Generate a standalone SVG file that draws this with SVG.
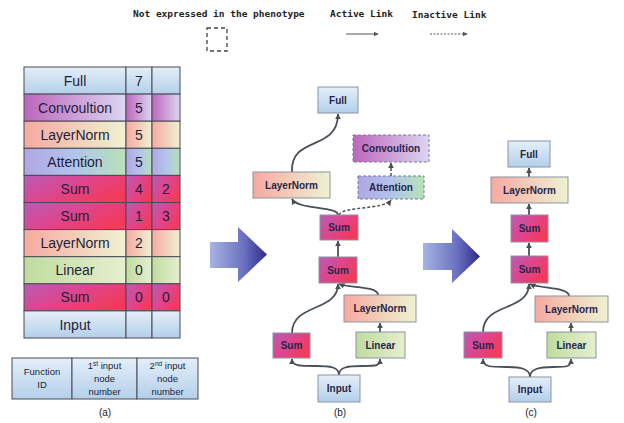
<svg xmlns="http://www.w3.org/2000/svg" width="624" height="423" viewBox="0 0 624 423">
<defs>
<linearGradient id="gBlue" x1="0" y1="0" x2="0" y2="1"><stop offset="0" stop-color="#e4eff9"/><stop offset="1" stop-color="#b3cfea"/></linearGradient>
<linearGradient id="gSum" x1="0" y1="0" x2="1" y2="0.6"><stop offset="0" stop-color="#b85cb6"/><stop offset="0.55" stop-color="#e0448a"/><stop offset="1" stop-color="#f23a5a"/></linearGradient>
<linearGradient id="gLN" x1="0" y1="0" x2="1" y2="0"><stop offset="0" stop-color="#f7a9a0"/><stop offset="1" stop-color="#eef2d2"/></linearGradient>
<linearGradient id="gLin" x1="0" y1="0" x2="1" y2="0"><stop offset="0" stop-color="#bfdc9e"/><stop offset="1" stop-color="#e6efd0"/></linearGradient>
<linearGradient id="gConv" x1="0" y1="0" x2="1" y2="0"><stop offset="0" stop-color="#bd66bd"/><stop offset="1" stop-color="#dcd6f1"/></linearGradient>
<linearGradient id="gAtt" x1="0" y1="0" x2="1" y2="0"><stop offset="0" stop-color="#b0a6e2"/><stop offset="0.5" stop-color="#b2c4ec"/><stop offset="1" stop-color="#b6e2b6"/></linearGradient>
<linearGradient id="gArrow" x1="0" y1="0" x2="1" y2="0"><stop offset="0" stop-color="#a6b4e2"/><stop offset="0.6" stop-color="#6a70c0"/><stop offset="1" stop-color="#2e2a88"/></linearGradient>
<marker id="ah" viewBox="0 0 10 10" refX="9" refY="5" markerWidth="6" markerHeight="6" markerUnits="userSpaceOnUse" orient="auto"><path d="M0,0 L10,5 L0,10 z" fill="#4a5058"/></marker>
<marker id="ahs" viewBox="0 0 10 10" refX="9" refY="5" markerWidth="5" markerHeight="5" markerUnits="userSpaceOnUse" orient="auto"><path d="M0,0 L10,5 L0,10 z" fill="#555"/></marker>
</defs>
<style>
.leg{font-family:"DejaVu Sans Mono",monospace;font-size:9.5px;font-weight:bold;fill:#222}
.tt{font-family:"Liberation Sans",Arial,sans-serif;font-size:14px;fill:#1e1e3a;text-anchor:middle}
.cell{stroke:#4a4a55;stroke-width:1}
.lt{font-family:"Liberation Sans",Arial,sans-serif;font-size:9.5px;fill:#1e1e3a;text-anchor:middle}
.nt{font-family:"Liberation Sans",Arial,sans-serif;font-size:10px;font-weight:bold;fill:#26264a;text-anchor:middle}
.nd{stroke:#8a94a2;stroke-width:1}
.dnd{stroke:#7a7a92;stroke-width:1;stroke-dasharray:3 2}
.cap{font-family:"Liberation Sans",Arial,sans-serif;font-size:10px;fill:#222;text-anchor:middle}
.ln{fill:none;stroke:#4a5058;stroke-width:1.8;marker-end:url(#ah)}
.dl{fill:none;stroke:#4a5058;stroke-width:1.5;stroke-dasharray:3 2;marker-end:url(#ah)}
</style>
<rect width="624" height="423" fill="#ffffff"/>

<g id="legend">
<text class="leg" x="133" y="17">Not expressed in the phenotype</text>
<rect x="207" y="28" width="20" height="23" fill="none" stroke="#444" stroke-width="1.3" stroke-dasharray="4 3"/>
<text class="leg" x="330" y="17">Active Link</text>
<line x1="346" y1="34" x2="378" y2="34" stroke="#555" stroke-width="1" marker-end="url(#ahs)"/>
<text class="leg" x="412" y="18">Inactive Link</text>
<line x1="430" y1="34" x2="467" y2="34" stroke="#555" stroke-width="1" stroke-dasharray="2 1.5" marker-end="url(#ahs)"/>
</g>

<g id="table">
<rect class="cell" x="24" y="67" width="102" height="27.1" fill="url(#gBlue)"/><rect class="cell" x="126" y="67" width="26" height="27.1" fill="url(#gBlue)"/><rect class="cell" x="152" y="67" width="28" height="27.1" fill="url(#gBlue)"/>
<text class="tt" x="75" y="86">Full</text><text class="tt" x="139" y="86">7</text>
<rect class="cell" x="24" y="94.1" width="102" height="27.1" fill="url(#gConv)"/><rect class="cell" x="126" y="94.1" width="26" height="27.1" fill="url(#gConv)"/><rect class="cell" x="152" y="94.1" width="28" height="27.1" fill="url(#gConv)"/>
<text class="tt" x="75" y="113">Convoultion</text><text class="tt" x="139" y="113">5</text>
<rect class="cell" x="24" y="121.2" width="102" height="27.1" fill="url(#gLN)"/><rect class="cell" x="126" y="121.2" width="26" height="27.1" fill="url(#gLN)"/><rect class="cell" x="152" y="121.2" width="28" height="27.1" fill="url(#gLN)"/>
<text class="tt" x="75" y="140">LayerNorm</text><text class="tt" x="139" y="140">5</text>
<rect class="cell" x="24" y="148.3" width="102" height="27.1" fill="url(#gAtt)"/><rect class="cell" x="126" y="148.3" width="26" height="27.1" fill="url(#gAtt)"/><rect class="cell" x="152" y="148.3" width="28" height="27.1" fill="url(#gAtt)"/>
<text class="tt" x="75" y="167">Attention</text><text class="tt" x="139" y="167">5</text>
<rect class="cell" x="24" y="175.4" width="102" height="27.1" fill="url(#gSum)"/><rect class="cell" x="126" y="175.4" width="26" height="27.1" fill="url(#gSum)"/><rect class="cell" x="152" y="175.4" width="28" height="27.1" fill="url(#gSum)"/>
<text class="tt" x="75" y="194">Sum</text><text class="tt" x="139" y="194">4</text><text class="tt" x="166" y="194">2</text>
<rect class="cell" x="24" y="202.5" width="102" height="27.1" fill="url(#gSum)"/><rect class="cell" x="126" y="202.5" width="26" height="27.1" fill="url(#gSum)"/><rect class="cell" x="152" y="202.5" width="28" height="27.1" fill="url(#gSum)"/>
<text class="tt" x="75" y="221">Sum</text><text class="tt" x="139" y="221">1</text><text class="tt" x="166" y="221">3</text>
<rect class="cell" x="24" y="229.6" width="102" height="27.1" fill="url(#gLN)"/><rect class="cell" x="126" y="229.6" width="26" height="27.1" fill="url(#gLN)"/><rect class="cell" x="152" y="229.6" width="28" height="27.1" fill="url(#gLN)"/>
<text class="tt" x="75" y="248">LayerNorm</text><text class="tt" x="139" y="248">2</text>
<rect class="cell" x="24" y="256.7" width="102" height="27.1" fill="url(#gLin)"/><rect class="cell" x="126" y="256.7" width="26" height="27.1" fill="url(#gLin)"/><rect class="cell" x="152" y="256.7" width="28" height="27.1" fill="url(#gLin)"/>
<text class="tt" x="75" y="275">Linear</text><text class="tt" x="139" y="275">0</text>
<rect class="cell" x="24" y="283.8" width="102" height="27.1" fill="url(#gSum)"/><rect class="cell" x="126" y="283.8" width="26" height="27.1" fill="url(#gSum)"/><rect class="cell" x="152" y="283.8" width="28" height="27.1" fill="url(#gSum)"/>
<text class="tt" x="75" y="302">Sum</text><text class="tt" x="139" y="302">0</text><text class="tt" x="166" y="302">0</text>
<rect class="cell" x="24" y="310.9" width="102" height="27.1" fill="url(#gBlue)"/><rect class="cell" x="126" y="310.9" width="26" height="27.1" fill="url(#gBlue)"/><rect class="cell" x="152" y="310.9" width="28" height="27.1" fill="url(#gBlue)"/>
<text class="tt" x="75" y="330">Input</text>
</g>

<g id="key-table">
<rect class="cell" x="12" y="358" width="60" height="41" fill="url(#gBlue)"/>
<rect class="cell" x="72" y="358" width="65" height="41" fill="url(#gBlue)"/>
<rect class="cell" x="137" y="358" width="61" height="41" fill="url(#gBlue)"/>
<text class="lt" x="42" y="375">Function</text><text class="lt" x="42" y="388">ID</text>
<text class="lt" x="104.5" y="369">1<tspan font-size="6.5" dy="-3">st</tspan><tspan dy="3"> input</tspan></text>
<text class="lt" x="104.5" y="382">node</text><text class="lt" x="104.5" y="395">number</text>
<text class="lt" x="167.5" y="369">2<tspan font-size="6.5" dy="-3">nd</tspan><tspan dy="3"> input</tspan></text>
<text class="lt" x="167.5" y="382">node</text><text class="lt" x="167.5" y="395">number</text>
<text class="cap" x="105" y="416">(a)</text>
</g>

<g id="arrow1"><path d="M210,242 L238,242 L238,227 L267,254.5 L238,282 L238,268 L210,268 z" fill="url(#gArrow)"/></g>
<g id="arrow2"><path d="M423,243 L452,243 L452,229 L480,256.5 L452,283 L452,270 L423,270 z" fill="url(#gArrow)"/></g>

<g id="connectors">
<path class="ln" d="M339,375 C339,367 330,366 316,366 C299,366 292,366 292,359"/>
<path class="ln" d="M339,375 C339,367 348,366 362,366 C377,366 380,366 380,359"/>
<path class="ln" d="M380,332 L380,323"/>
<path class="ln" d="M292,333 C292,303 338,312 338,284"/>
<path class="ln" d="M378,295 C378,286 350,288 339,284"/>
<path class="ln" d="M338,257 L338,241"/>
<path class="ln" d="M338,215 C338,206 298,210 292,199"/>
<path class="dl" d="M339,215 C342,206 384,210 391,200"/>
<path class="dl" d="M391,176 L391,163"/>
<path class="ln" d="M292,172 C290,135 338,152 338,114"/>

<path class="ln" d="M530,377 C530,369 521,367 507,367 C490,367 483,367 483,359"/>
<path class="ln" d="M530,377 C530,369 539,367 553,367 C568,367 571,367 571,359"/>
<path class="ln" d="M571,332 L571,323"/>
<path class="ln" d="M483,332 C483,302 529,312 529,284"/>
<path class="ln" d="M569,296 C569,287 541,289 530,284"/>
<path class="ln" d="M529,256 L529,243"/>
<path class="ln" d="M529,215 L529,204"/>
<path class="ln" d="M529,177 L529,168"/>
</g>

<g id="b-full"><rect class="nd" x="318" y="87" width="40" height="26" fill="url(#gBlue)"/><text class="nt" x="338" y="104">Full</text></g>
<g id="b-conv"><rect class="dnd" x="353" y="135" width="76" height="27" fill="url(#gConv)"/><text class="nt" x="391" y="152">Convoultion</text></g>
<g id="b-att"><rect class="dnd" x="358" y="176" width="66" height="23" fill="url(#gAtt)"/><text class="nt" x="391" y="191">Attention</text></g>
<g id="b-ln1"><rect class="nd" x="253" y="172" width="77" height="26" fill="url(#gLN)"/><text class="nt" x="291.5" y="189">LayerNorm</text></g>
<g id="b-sum1"><rect class="nd" x="320" y="215" width="38" height="25" fill="url(#gSum)"/><text class="nt" x="339" y="231">Sum</text></g>
<g id="b-sum2"><rect class="nd" x="319" y="257" width="38" height="26" fill="url(#gSum)"/><text class="nt" x="338" y="274">Sum</text></g>
<g id="b-ln2"><rect class="nd" x="344" y="295" width="72" height="27" fill="url(#gLN)"/><text class="nt" x="380" y="312">LayerNorm</text></g>
<g id="b-sum3"><rect class="nd" x="273" y="333" width="37" height="25" fill="url(#gSum)"/><text class="nt" x="291.5" y="349">Sum</text></g>
<g id="b-lin"><rect class="nd" x="356" y="332" width="49" height="26" fill="url(#gLin)"/><text class="nt" x="380.5" y="349">Linear</text></g>
<g id="b-input"><rect class="nd" x="318" y="375" width="42" height="27" fill="url(#gBlue)"/><text class="nt" x="339" y="392">Input</text></g>
<text class="cap" x="340" y="416">(b)</text>

<g id="c-full"><rect class="nd" x="508" y="141" width="42" height="26" fill="url(#gBlue)"/><text class="nt" x="529" y="158">Full</text></g>
<g id="c-ln1"><rect class="nd" x="491" y="177" width="77" height="26" fill="url(#gLN)"/><text class="nt" x="529.5" y="194">LayerNorm</text></g>
<g id="c-sum1"><rect class="nd" x="511" y="215" width="37" height="27" fill="url(#gSum)"/><text class="nt" x="529.5" y="232">Sum</text></g>
<g id="c-sum2"><rect class="nd" x="511" y="256" width="37" height="27" fill="url(#gSum)"/><text class="nt" x="529.5" y="273">Sum</text></g>
<g id="c-ln2"><rect class="nd" x="535" y="296" width="73" height="26" fill="url(#gLN)"/><text class="nt" x="571.5" y="313">LayerNorm</text></g>
<g id="c-sum3"><rect class="nd" x="464" y="332" width="38" height="26" fill="url(#gSum)"/><text class="nt" x="483" y="349">Sum</text></g>
<g id="c-lin"><rect class="nd" x="547" y="332" width="49" height="26" fill="url(#gLin)"/><text class="nt" x="571.5" y="349">Linear</text></g>
<g id="c-input"><rect class="nd" x="509" y="377" width="42" height="25" fill="url(#gBlue)"/><text class="nt" x="530" y="393">Input</text></g>
<text class="cap" x="531" y="416">(c)</text>
</svg>
